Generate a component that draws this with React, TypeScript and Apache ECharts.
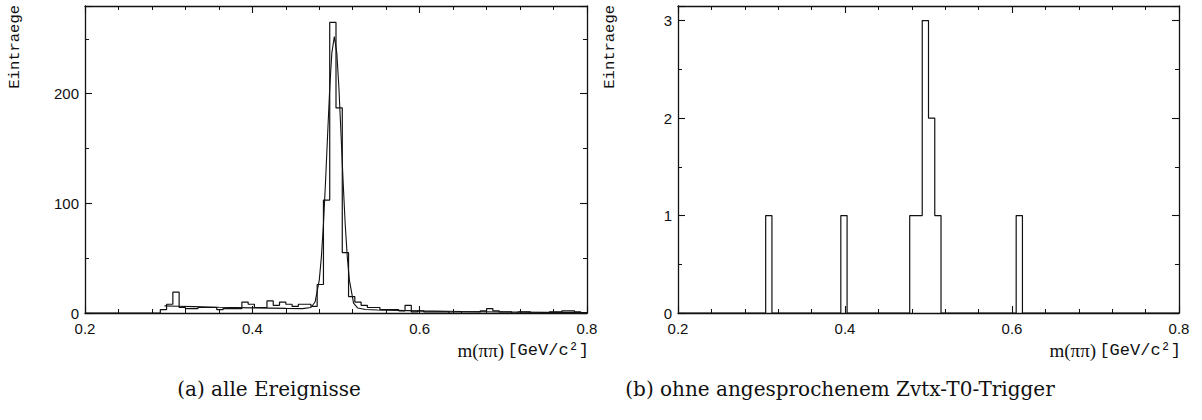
import React, { useEffect, useRef } from "react";
import * as echarts from "echarts";

// ---- data ----
const X_MIN = 0.2;
const X_MAX = 0.8;
const BIN_WIDTH = 0.0075; // 80 bins between 0.2 and 0.8
const xTickLabels = ["0.2", "0.4", "0.6", "0.8"];
const leftYTickLabels = [0, 100, 200];
const rightYTickLabels = [0, 1, 2, 3];

// (a) alle Ereignisse – counts per bin
const allEventsCounts = [
  0, 0, 0, 0, 0, 0, 0, 0, 0, 0,
  0, 0, 3, 8, 19, 5, 4, 4, 5, 5,
  5, 3, 4, 4, 4, 10, 8, 5, 5, 11,
  7, 10, 8, 6, 8, 8, 6, 26, 103, 265,
  187, 55, 15, 10, 7, 5, 5, 3, 3, 3,
  2, 7, 1, 2, 1, 1, 1, 1, 0, 0,
  1, 1, 1, 2, 4, 2, 1, 1, 0, 1,
  1, 0, 0, 0, 1, 1, 2, 2, 1, 0,
];

// (b) ohne angesprochenem Zvtx-T0-Trigger – counts per bin
const noTriggerCounts = [
  0, 0, 0, 0, 0, 0, 0, 0, 0, 0,
  0, 0, 0, 0, 1, 0, 0, 0, 0, 0,
  0, 0, 0, 0, 0, 0, 1, 0, 0, 0,
  0, 0, 0, 0, 0, 0, 0, 1, 1, 3,
  2, 1, 0, 0, 0, 0, 0, 0, 0, 0,
  0, 0, 0, 0, 1, 0, 0, 0, 0, 0,
  0, 0, 0, 0, 0, 0, 0, 0, 0, 0,
  0, 0, 0, 0, 0, 0, 0, 0, 0, 0,
];

// fitted curve in panel (a)
const fitX = [
  0.295, 0.31, 0.33, 0.36, 0.4, 0.44, 0.46, 0.47, 0.475, 0.48, 0.4825, 0.485,
  0.4875, 0.49, 0.4925, 0.495, 0.498, 0.501, 0.5035, 0.506, 0.5085, 0.511,
  0.5135, 0.516, 0.521, 0.526, 0.535, 0.55, 0.6, 0.65, 0.7, 0.75, 0.8,
];
const fitY = [
  6.5, 6.2, 5.8, 5.2, 4.7, 4.2, 4.0, 5, 10, 30, 51, 81,
  120, 163, 205, 237, 252, 237, 205, 163, 120, 81,
  51, 30, 9, 4.5, 3.2, 2.7, 1.9, 1.3, 0.9, 0.6, 0.4,
];

// ---- helpers ----
function histogramOutline(counts: number[]) {
  const pts: number[][] = [[X_MIN, 0]];
  counts.forEach((v, i) => {
    const x0 = X_MIN + i * BIN_WIDTH;
    pts.push([x0, v], [x0 + BIN_WIDTH, v]);
  });
  pts.push([X_MAX, 0]);
  return pts;
}

const INK = "#111";
const TICK_FONT = "Liberation Sans";

function xAxesFor(grid: number) {
  const base = {
    gridIndex: grid,
    type: "value" as const,
    min: X_MIN,
    max: X_MAX,
    splitLine: { show: false },
  };
  const major = (position: string, labels: boolean, line: boolean) => ({
    ...base,
    position,
    interval: 0.2,
    axisLine: { show: line, onZero: false, lineStyle: { color: INK, width: 1.3 } },
    axisTick: { show: true, inside: true, length: 7, lineStyle: { color: INK, width: 1.1 } },
    axisLabel: {
      show: labels,
      margin: 9,
      color: INK,
      fontFamily: TICK_FONT,
      fontSize: 15,
      lineHeight: 13,
      formatter: (v: number) => xTickLabels[Math.round((v - X_MIN) / 0.2)] ?? "",
    },
  });
  const minor = (position: string) => ({
    ...base,
    position,
    interval: 0.04,
    axisLine: { show: false, onZero: false },
    axisTick: { show: true, inside: true, length: 4, lineStyle: { color: INK, width: 1 } },
    axisLabel: { show: false },
  });
  return [major("bottom", true, true), minor("bottom"), major("top", false, true), minor("top")];
}

function yAxesFor(grid: number, max: number, majorStep: number, labels: number[]) {
  const base = {
    gridIndex: grid,
    type: "value" as const,
    min: 0,
    max,
    splitLine: { show: false },
  };
  const major = (position: string, showLabels: boolean) => ({
    ...base,
    position,
    interval: majorStep,
    axisLine: { show: true, onZero: false, lineStyle: { color: INK, width: 1.3 } },
    axisTick: { show: true, inside: true, length: 7, lineStyle: { color: INK, width: 1.1 } },
    axisLabel: {
      show: showLabels,
      margin: 6,
      color: INK,
      fontFamily: TICK_FONT,
      fontSize: 15,
      lineHeight: 12,
      formatter: (v: number) => (labels.some((l) => Math.abs(l - v) < 1e-9) ? String(v) : ""),
    },
  });
  const minor = (position: string) => ({
    ...base,
    position,
    interval: majorStep / 2,
    axisLine: { show: false, onZero: false },
    axisTick: { show: true, inside: true, length: 4, lineStyle: { color: INK, width: 1 } },
    axisLabel: { show: false },
  });
  return [major("left", true), minor("left"), major("right", false), minor("right")];
}

const MONO = "Liberation Mono";
const SERIF = "DejaVu Serif";

function axisTitle(x: number, y: number) {
  return {
    type: "text",
    x,
    y,
    style: {
      text: "{a|m(ππ)} {b|[GeV/c²]}",
      align: "right",
      verticalAlign: "middle",
      fill: INK,
      rich: {
        a: { fontFamily: "Liberation Serif", fontSize: 19, fill: INK },
        b: { fontFamily: MONO, fontSize: 17, fill: INK },
      },
    },
  };
}

function yTitle(x: number, y: number) {
  return {
    type: "text",
    x,
    y,
    rotation: Math.PI / 2,
    style: {
      text: "Eintraege",
      align: "right",
      verticalAlign: "middle",
      fill: INK,
      fontFamily: MONO,
      fontSize: 15.5,
    },
  };
}

function caption(x: number, y: number, text: string) {
  return {
    type: "text",
    x,
    y,
    style: {
      text,
      align: "center",
      verticalAlign: "middle",
      fill: INK,
      fontFamily: SERIF,
      fontSize: 20,
    },
  };
}

export default function App() {
  const ref = useRef<HTMLDivElement>(null);

  useEffect(() => {
    if (!ref.current) return;
    const chart = echarts.init(ref.current, undefined, { renderer: "svg" });
    const lineStyle = { color: INK, width: 1.2 };
    chart.setOption({
      animation: false,
      backgroundColor: "#fff",
      grid: [
        { left: 85, top: 6, width: 502, height: 307 },
        { left: 678, top: 6, width: 501, height: 307 },
      ],
      xAxis: [...xAxesFor(0), ...xAxesFor(1)],
      yAxis: [...yAxesFor(0, 280, 100, leftYTickLabels), ...yAxesFor(1, 3.15, 1, rightYTickLabels)],
      series: [
        {
          type: "line",
          xAxisIndex: 0,
          yAxisIndex: 0,
          data: histogramOutline(allEventsCounts),
          showSymbol: false,
          symbol: "none",
          lineStyle,
          z: 3,
        },
        {
          type: "line",
          xAxisIndex: 0,
          yAxisIndex: 0,
          data: fitX.map((x, i) => [x, fitY[i]]),
          showSymbol: false,
          symbol: "none",
          lineStyle: { color: INK, width: 1.1 },
          z: 3,
        },
        {
          type: "line",
          xAxisIndex: 4,
          yAxisIndex: 4,
          data: histogramOutline(noTriggerCounts),
          showSymbol: false,
          symbol: "none",
          lineStyle,
          z: 3,
        },
      ],
      graphic: [
        yTitle(15, 5),
        yTitle(610, 5),
        axisTitle(589, 350),
        axisTitle(1181, 350),
        caption(269, 389, "(a) alle Ereignisse"),
        caption(840, 389, "(b) ohne angesprochenem Zvtx-T0-Trigger"),
      ],
    });
    return () => chart.dispose();
  }, []);

  return (
    <div
      ref={ref}
      style={{ position: "fixed", left: 0, top: 0, width: 1202, height: 420, background: "#fff" }}
    />
  );
}
